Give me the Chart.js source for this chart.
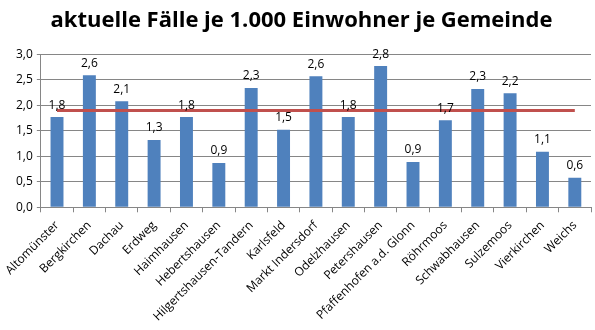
<!DOCTYPE html>
<html>
<head>
<meta charset="utf-8">
<script src="https://cdn.jsdelivr.net/npm/chart.js@4"></script>
<style>
  html, body { margin: 0; padding: 0; background: #fff; }
</style>
</head>
<body>
<canvas id="faelleChart" width="595" height="330"></canvas>
<script>
// Gemeinden und Werte (Fälle je 1.000 Einwohner)
const gemeinden = ['Altomünster', 'Bergkirchen', 'Dachau', 'Erdweg', 'Haimhausen', 'Hebertshausen',
    'Hilgertshausen-Tandern', 'Karlsfeld', 'Markt Indersdorf', 'Odelzhausen', 'Petershausen',
    'Pfaffenhofen a.d. Glonn', 'Röhrmoos', 'Schwabhausen', 'Sulzemoos', 'Vierkirchen', 'Weichs'];
const faelle = [1.77, 2.59, 2.08, 1.32, 1.77, 0.87, 2.34, 1.52, 2.57, 1.77, 2.77, 0.89, 1.71, 2.32, 2.24, 1.09, 0.58];
const landkreisSchnitt = 1.9;
const yTicks = [0, 0.5, 1, 1.5, 2, 2.5, 3];

const fmt = v => v.toFixed(1).replace('.', ',');

// Werte über die Balken schreiben
const barLabels = {
    id: 'barLabels',
    afterDatasetsDraw(chart) {
        const ctx = chart.ctx;
        const meta = chart.getDatasetMeta(1);
        ctx.save();
        ctx.font = '12px "Open Sans"';
        ctx.fillStyle = '#000';
        ctx.textAlign = 'center';
        ctx.textBaseline = 'bottom';
        meta.data.forEach((bar, i) => {
            ctx.fillText(fmt(faelle[i]), bar.x, bar.y - 6);
        });
        ctx.restore();
    }
};

const ctx = document.getElementById('faelleChart').getContext('2d');
new Chart(ctx, {
    data: {
        labels: gemeinden,
        datasets: [{
            type: 'line',
            data: gemeinden.map(() => landkreisSchnitt),
            borderColor: '#C0504D',
            borderWidth: 3,
            pointRadius: 0,
            order: 0
        }, {
            type: 'bar',
            data: faelle,
            backgroundColor: '#4F81BD',
            barPercentage: 0.4,
            categoryPercentage: 1,
            order: 1
        }]
    },
    options: {
        responsive: false,
        animation: false,
        layout: { padding: { left: 12, right: 4, top: 0, bottom: 0 } },
        plugins: {
            legend: { display: false },
            tooltip: { enabled: false },
            title: {
                display: true,
                text: 'aktuelle Fälle je 1.000 Einwohner je Gemeinde',
                color: '#000',
                font: { family: '"Open Sans"', size: 22, weight: 'bold' },
                padding: { top: 8, bottom: 20 }
            }
        },
        scales: {
            y: {
                min: 0,
                max: 3,
                afterBuildTicks: axis => { axis.ticks = yTicks.map(v => ({ value: v })); },
                ticks: {
                    color: '#000',
                    font: { family: '"Open Sans"', size: 12 },
                    callback: v => fmt(v),
                    padding: 4
                },
                grid: { color: '#868686', drawTicks: true, tickLength: 4 },
                border: { color: '#868686' }
            },
            x: {
                ticks: {
                    color: '#000',
                    font: { family: '"Open Sans"', size: 12 },
                    minRotation: 45,
                    maxRotation: 45,
                    autoSkip: false,
                    padding: 6
                },
                grid: { drawOnChartArea: false, drawTicks: true, tickLength: 5, color: '#868686' },
                border: { color: '#868686' }
            }
        }
    },
    plugins: [barLabels]
});
</script>
</body>
</html>
